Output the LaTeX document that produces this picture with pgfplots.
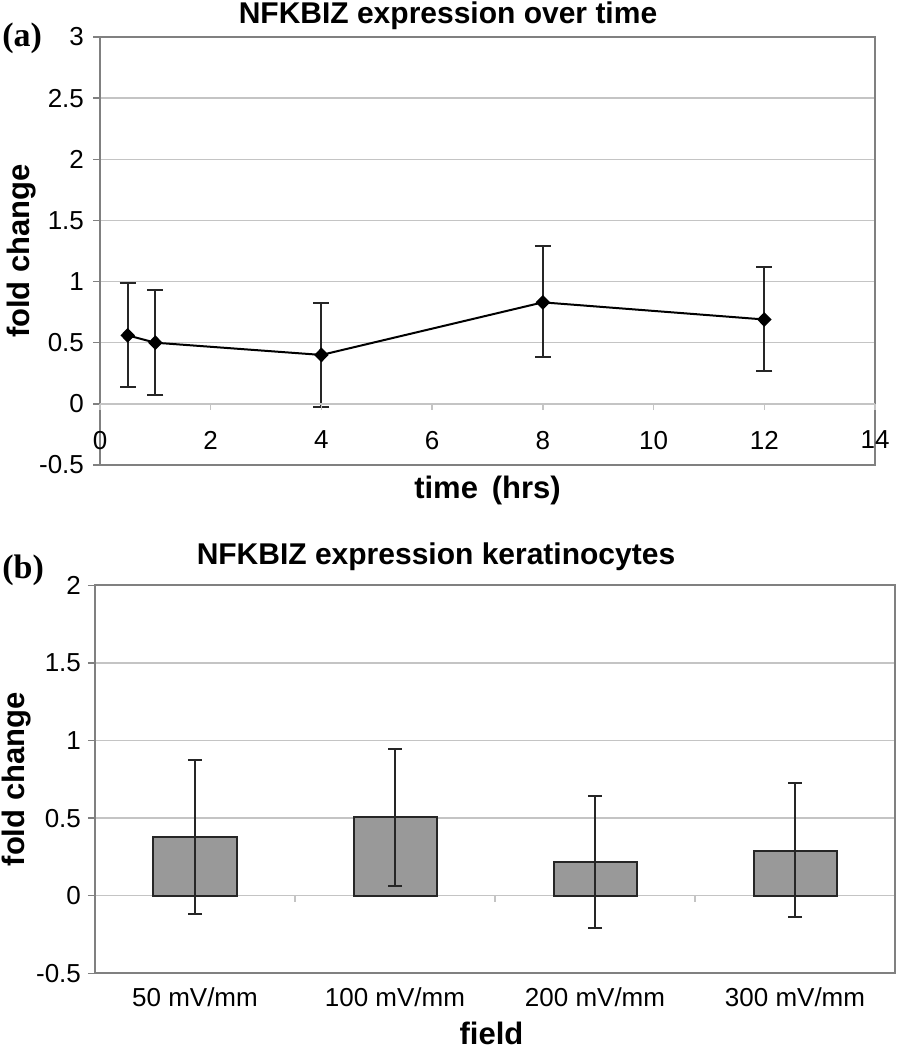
\documentclass[border=0pt]{standalone}
\usepackage{pgfplots}
\pgfplotsset{compat=1.18}
\usepackage{pgfplotstable}
\usepackage{fontspec}
\setmainfont{Liberation Sans}
\newfontfamily\serifb{Liberation Serif}
\definecolor{framegray}{HTML}{808080}
\definecolor{gridgray}{HTML}{C4C4C4}
\definecolor{bargray}{HTML}{999999}

\pgfplotstableread{
x y ep em
0.5 0.56 0.43 0.425
1 0.50 0.43 0.425
4 0.40 0.425 0.425
8 0.83 0.46 0.445
12 0.69 0.43 0.42
}\timedata

\pgfplotstableread{
x y ep em
0 0.38 0.495 0.495
1 0.505 0.44 0.44
2 0.22 0.425 0.425
3 0.29 0.435 0.425
}\fielddata

\newcommand{\tickfont}{\fontsize{13}{13}\selectfont}
\newcommand{\labfont}{\bfseries\fontsize{15.5}{15.5}\selectfont}

\begin{document}
\begin{tikzpicture}
\path[use as bounding box] (0,0) rectangle (448pt,525pt);

% ---------- panel (a) ----------
\begin{axis}[
  scale only axis, width=387.5pt, height=214pt,
  at={(50pt,292.5pt)}, anchor=south west,
  xmin=0, xmax=14, ymin=-0.5, ymax=3,
  ytick={-0.5,0,0.5,1,1.5,2,2.5,3},
  xtick=\empty,
  ymajorgrids, grid style={gridgray, line width=0.7pt},
  axis line style={framegray, line width=1pt},
  tick align=outside, ytick pos=left, major tick length=3.5pt,
  tick style={framegray, line width=0.7pt},
  /pgf/number format/assume math mode=true,
  yticklabel style={font=\tickfont, xshift=-1pt},
  ylabel={fold change},
  ylabel style={font=\labfont, at={(axis description cs:-0.1016,0.5)}, anchor=center},
  xlabel={time\, (hrs)},
  xlabel style={font=\labfont, at={(axis description cs:0.5,-0.0607)}, anchor=center},
]
\addplot[black, line width=1pt, mark=diamond*, mark size=3pt,
  mark options={xscale=1.3, solid},
  error bars/.cd, y dir=both, y explicit,
  error bar style={line width=1pt, black!85},
  error mark options={rotate=90, mark size=4pt, line width=1pt, black!85}]
  table[x=x, y=y, y error plus=ep, y error minus=em]{\timedata};
\end{axis}

% x axis of (a) at y=0
\begin{axis}[
  scale only axis, width=387.5pt, height=214pt,
  at={(50pt,292.5pt)}, anchor=south west,
  xmin=0, xmax=14, ymin=-0.5, ymax=3,
  axis x line=middle, axis y line=none,
  axis line style={-, gridgray, line width=0.7pt},
  xtick={0,2,4,6,8,10,12,14},
  tick align=outside, major tick length=3pt,
  tick style={gridgray, line width=0.7pt},
  /pgf/number format/assume math mode=true,
  xticklabel style={font=\tickfont, yshift=-7pt},
]
\end{axis}

% ---------- panel (b) ----------
\begin{axis}[
  scale only axis, width=400pt, height=194pt,
  at={(47.5pt,38.35pt)}, anchor=south west,
  xmin=-0.5, xmax=3.5, ymin=-0.5, ymax=2,
  ytick={-0.5,0,0.5,1,1.5,2},
  xtick={0,1,2,3},
  xticklabels={50 mV/mm, 100 mV/mm, 200 mV/mm, 300 mV/mm},
  x tick style={draw=none},
  ymajorgrids, grid style={gridgray, line width=0.7pt},
  axis line style={framegray, line width=1pt},
  tick align=outside, ytick pos=left, xtick pos=bottom, major tick length=3.5pt,
  tick style={framegray, line width=0.7pt},
  /pgf/number format/assume math mode=true,
  yticklabel style={font=\tickfont},
  xticklabel style={font=\tickfont, yshift=0pt},
  ylabel={fold change},
  ylabel style={font=\labfont, at={(axis description cs:-0.0975,0.5)}, anchor=center},
  xlabel={field},
  xlabel style={font=\labfont, at={(axis description cs:0.4956,-0.183)}, anchor=base},
]
\addplot[ybar, bar width=41.5pt, fill=bargray, draw=black!85, line width=1pt,
  error bars/.cd, y dir=both, y explicit,
  error bar style={line width=1pt, black!85},
  error mark options={rotate=90, mark size=3.5pt, line width=1pt, black!85}]
  table[x=x, y=y, y error plus=ep, y error minus=em]{\fielddata};
\end{axis}

% category tick marks of (b) at y=0
\begin{axis}[
  scale only axis, width=400pt, height=194pt,
  at={(47.5pt,38.35pt)}, anchor=south west,
  xmin=-0.5, xmax=3.5, ymin=-0.5, ymax=2,
  axis x line=middle, axis y line=none,
  axis line style={-, draw=none},
  xtick={0.5,1.5,2.5}, xticklabels={},
  tick align=outside, major tick length=3pt,
  tick style={gridgray, line width=0.7pt},
]
\end{axis}

% titles and panel letters
\node[anchor=base, font=\bfseries\fontsize{15}{15}\selectfont] at (224pt,513pt) {NFKBIZ expression over time};
\node[anchor=base, font=\bfseries\fontsize{15}{15}\selectfont] at (218pt,242.5pt) {NFKBIZ expression keratinocytes};
\node[anchor=west, inner sep=0pt, font=\serifb\bfseries\fontsize{17}{17}\selectfont] at (1pt,506pt) {(a)};
\node[anchor=west, inner sep=0pt, font=\serifb\bfseries\fontsize{17}{17}\selectfont] at (1pt,240pt) {(b)};
\end{tikzpicture}
\end{document}
